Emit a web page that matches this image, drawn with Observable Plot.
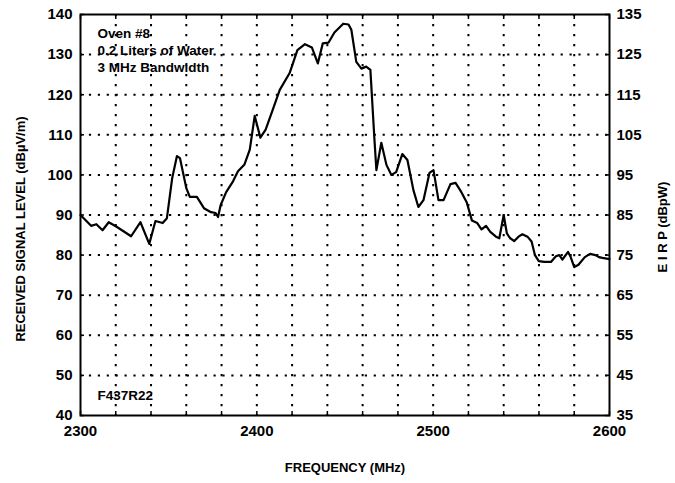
<!DOCTYPE html>
<html>
<head>
<meta charset="utf-8">
<script src="https://cdn.jsdelivr.net/npm/d3@7"></script>
<script src="https://cdn.jsdelivr.net/npm/@observablehq/plot@0.6"></script>
<style>
  html, body { margin: 0; padding: 0; background: #fff; }
  svg { display: block; }
</style>
</head>
<body>
<div id="chart"></div>
<script>
// Frequency (MHz) samples
const freq = [2300, 2306, 2309, 2312.5, 2316, 2320, 2323.5, 2328.7, 2334, 2339, 2342.5, 2346.6, 2349, 2352, 2354.7, 2356.4, 2360, 2362, 2366, 2370, 2374, 2376.6, 2378, 2379.5, 2382.6, 2386.5, 2389.3, 2393, 2396, 2398.8, 2402, 2405, 2409, 2413, 2418.6, 2423, 2427.3, 2431.2, 2434.6, 2437.4, 2440.7, 2444, 2449, 2452, 2453.6, 2456.4, 2459.3, 2462, 2464.4, 2466.6, 2467.8, 2470.6, 2473.5, 2476.3, 2479, 2482.5, 2485.4, 2488.8, 2491.6, 2494.5, 2497.9, 2500.2, 2503, 2505.9, 2509.8, 2512.7, 2516, 2519, 2522, 2525, 2527.4, 2530, 2532.4, 2535.6, 2537.5, 2540, 2541.8, 2543.7, 2546, 2548.4, 2550.6, 2553.5, 2555.8, 2557.7, 2559.9, 2563, 2566.8, 2569.6, 2571.5, 2573.3, 2576.5, 2578, 2580, 2582.4, 2586, 2589, 2592, 2594, 2596, 2600];
// Received signal level (dBµV/m)
const level = [90, 87.3, 87.7, 86.2, 88.2, 87.2, 86.2, 84.7, 88.2, 82.8, 88.5, 88, 89.2, 99.2, 104.7, 104.2, 96.7, 94.5, 94.5, 91.7, 90.7, 90.5, 89.5, 92.5, 95.7, 98.4, 100.9, 102.6, 106.3, 114.7, 109.3, 111.3, 116.2, 121.2, 125.4, 131.1, 132.6, 131.8, 127.8, 132.8, 133, 135.5, 137.7, 137.5, 136.2, 128.2, 126.5, 127, 126.2, 109.5, 101.2, 108, 102.5, 100, 100.7, 105.2, 103.7, 96.2, 92, 93.7, 100.5, 101.2, 93.7, 93.7, 97.7, 98, 95.7, 93.2, 88.6, 88, 86.4, 87.3, 85.8, 84.6, 84.2, 90, 85.4, 84.2, 83.5, 84.6, 85.2, 84.6, 83.4, 80, 78.5, 78.3, 78.3, 79.7, 80, 78.9, 80.8, 79.5, 77, 77.6, 79.5, 80.3, 80, 79.5, 79.3, 79];

const xTickLabels = [2300, 2400, 2500, 2600];
const xGrid = [2320, 2340, 2360, 2380, 2400, 2420, 2440, 2460, 2480, 2500, 2520, 2540, 2560, 2580];
const xMinorTicks = [2300, 2320, 2340, 2360, 2380, 2400, 2420, 2440, 2460, 2480, 2500, 2520, 2540, 2560, 2580, 2600];
const yLeftTicks = [40, 50, 60, 70, 80, 90, 100, 110, 120, 130, 140];
const yRightTickLabels = [35, 45, 55, 65, 75, 85, 95, 105, 115, 125, 135];
const yGrid = [50, 60, 70, 80, 90, 100, 110, 120, 130];

const xTitle = ["FREQUENCY (MHz)"];
const yLeftTitle = ["RECEIVED SIGNAL LEVEL (dBµV/m)"];
const yRightTitle = ["E I R P (dBpW)"];
const noteLines = ["Oven #8\n0.2 Liters of Water\n3 MHz Bandwidth"];
const figId = ["F437R22"];

const data = freq.map((f, i) => ({f, v: level[i]}));

const font = "'Liberation Sans', Arial, sans-serif";

const chart = Plot.plot({
  width: 675,
  height: 483,
  marginLeft: 80,
  marginRight: 66,
  marginTop: 14,
  marginBottom: 68,
  style: {fontFamily: font, fontSize: "15px", fontWeight: "bold", color: "#000", background: "#fff"},
  x: {domain: [2300, 2600]},
  y: {domain: [40, 140]},
  marks: [
    Plot.ruleX(xGrid, {stroke: "#000", strokeWidth: 2, strokeDasharray: "2.2,7.8", strokeOpacity: 1}),
    Plot.ruleY(yGrid, {stroke: "#000", strokeWidth: 2, strokeDasharray: "2.2,6.7", strokeOpacity: 1}),
    Plot.frame({stroke: "#000", strokeWidth: 2}),
    Plot.axisX({anchor: "bottom", ticks: xMinorTicks, tickSize: -4, tickFormat: () => "", label: null, strokeWidth: 1.5}),
    Plot.axisX({anchor: "top", ticks: xMinorTicks, tickSize: -4, tickFormat: () => "", label: null, strokeWidth: 1.5}),
    Plot.axisX({anchor: "bottom", ticks: xTickLabels, tickSize: 0, tickPadding: 10, tickFormat: d => String(d), label: null}),
    Plot.axisY({anchor: "left", ticks: yLeftTicks, tickSize: -4, tickPadding: 12, tickFormat: d => String(d), label: null, strokeWidth: 1.5}),
    Plot.axisY({anchor: "right", ticks: yLeftTicks, tickSize: -5, tickPadding: 12, tickFormat: d => String(yRightTickLabels[yLeftTicks.indexOf(d)]), label: null, strokeWidth: 1.5}),
    Plot.line(data, {x: "f", y: "v", stroke: "#000", strokeWidth: 2.2, strokeLinejoin: "round"}),
    Plot.text(noteLines, {frameAnchor: "top-left", dx: 17, dy: 12, textAnchor: "start", lineAnchor: "top", lineHeight: 1.25, fontSize: 13.5, fontWeight: "bold"}),
    Plot.text(figId, {frameAnchor: "bottom-left", dx: 17, dy: -20, textAnchor: "start", lineAnchor: "middle", fontSize: 13.5, fontWeight: "bold"}),
    Plot.text(xTitle, {frameAnchor: "bottom", dy: 52, textAnchor: "middle", lineAnchor: "middle", fontSize: 13, fontWeight: "bold"}),
    Plot.text(yLeftTitle, {frameAnchor: "left", dx: -60, dy: 14, rotate: -90, textAnchor: "middle", lineAnchor: "middle", fontSize: 13, fontWeight: "bold"}),
    Plot.text(yRightTitle, {frameAnchor: "right", dx: 53, dy: 12, rotate: -90, textAnchor: "middle", lineAnchor: "middle", fontSize: 13, fontWeight: "bold"})
  ]
});

document.getElementById("chart").appendChild(chart);
</script>
</body>
</html>
